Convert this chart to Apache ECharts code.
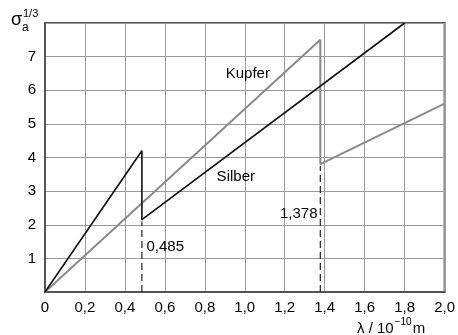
<!DOCTYPE html>
<html><head><meta charset="utf-8">
<script src="https://cdn.jsdelivr.net/npm/echarts@6/dist/echarts.min.js"></script>
<style>html,body{margin:0;padding:0;background:#fff}#c{width:458px;height:335px}</style>
</head><body><div id="c"></div>
<script>
var silberX = [0, 0.485, 0.485, 1.8];
var silberY = [0, 4.2, 2.15, 8];
var kupferX = [0, 1.378, 1.378, 2.0];
var kupferY = [0, 7.5, 3.8, 5.6];
var edgeX = [0.485, 1.378];
var edgeTop = [2.1, 3.75];
var labelText = ['Kupfer', 'Silber', '0,485', '1,378'];
var labelX = [1.015, 0.955, 0.508, 1.364];
var labelY = [6.5, 3.43, 1.34, 2.33];
var labelAlign = ['center', 'center', 'left', 'right'];

function pairs(xs, ys){ return xs.map(function(x,i){return [x, ys[i]];}); }
var font = 'Liberation Sans, Arial, Helvetica, sans-serif';
var series = [
  {type:'line', data: pairs(kupferX, kupferY), symbol:'none', lineStyle:{color:'#8a8a8a', width:2}, z:3},
  {type:'line', data: pairs(silberX, silberY), symbol:'none', lineStyle:{color:'#111', width:1.6}, z:4}
];
edgeX.forEach(function(x,i){
  series.push({type:'line', data:[[x,0],[x,edgeTop[i]]], symbol:'none',
    lineStyle:{color:'#222', width:1.2, type:[7,4]}, z:2});
});
var chart = echarts.init(document.getElementById('c'), null, {renderer:'canvas'});
chart.setOption({
  animation:false,
  grid:{left:45, right:10, top:23, bottom:43, show:true, borderColor:'#555', borderWidth:2},
  xAxis:{type:'value', min:0, max:2, interval:0.2,
    axisLine:{show:true, lineStyle:{color:'#555', width:2}},
    axisTick:{show:false},
    splitLine:{show:true, lineStyle:{color:'#9a9a9a', width:1}},
    axisLabel:{margin:8, fontSize:15, color:'#000', fontFamily:font,
      formatter:function(v){ return v===0 ? '0' : v.toFixed(1).replace('.', ','); }}
  },
  yAxis:{type:'value', min:0, max:8, interval:1,
    axisLine:{show:true, lineStyle:{color:'#555', width:2}},
    axisTick:{show:false},
    splitLine:{show:true, lineStyle:{color:'#9a9a9a', width:1}},
    axisLabel:{margin:9, fontSize:15, color:'#000', fontFamily:font,
      formatter:function(v){ return (v===0||v===8) ? '' : String(v); }}
  },
  series: series
});
var cv = document.createElement('canvas').getContext('2d');
function w(t, size){ cv.font = size + 'px ' + font; return cv.measureText(t).width; }
var g = [
  {type:'text', left:11, top:11, style:{text:'σ', fill:'#000', font:'18px '+font}},
  {type:'text', left:22, top:22, style:{text:'a', fill:'#000', font:'12px '+font}},
  {type:'text', left:23, top:8, style:{text:'1/3', fill:'#000', font:'11px '+font}}
];
var xn = 357, t1 = 'λ / 10', t2 = '−10', t3 = 'm';
g.push({type:'text', left:xn, top:321, style:{text:t1, fill:'#000', font:'15px '+font}});
var x2 = xn + w(t1, 15) + 1;
g.push({type:'text', left:x2, top:317, style:{text:t2, fill:'#000', font:'10px '+font}});
var x3 = x2 + w(t2, 10) + 1;
g.push({type:'text', left:x3, top:321, style:{text:t3, fill:'#000', font:'15px '+font}});
labelText.forEach(function(t,i){
  var p = chart.convertToPixel({gridIndex:0}, [labelX[i], labelY[i]]);
  g.push({type:'text', x:p[0], y:p[1], z:10, style:{text:t, fill:'#000', font:'15px '+font, textAlign:labelAlign[i], textVerticalAlign:'middle'}});
});
chart.setOption({graphic:g});
</script></body></html>
